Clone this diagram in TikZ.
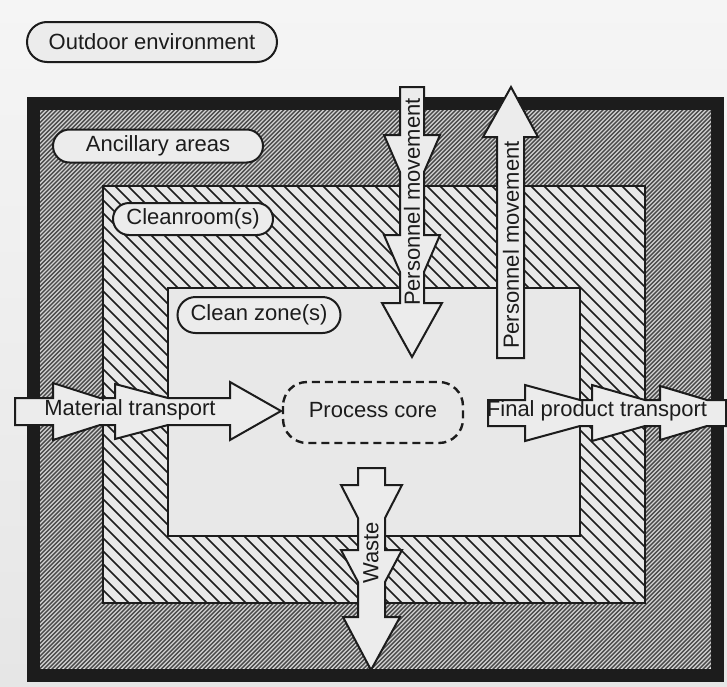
\documentclass[tikz,border=0pt]{standalone}
\usepackage{fontspec}
\setmainfont{Liberation Sans}
\usetikzlibrary{shapes.misc}

\definecolor{paper}{HTML}{E6E6E6}
\definecolor{ink}{HTML}{1C1C1C}
\definecolor{ancfill}{HTML}{D2D2D2}
\definecolor{anchatch}{HTML}{4A4A4A}
\definecolor{zonefill}{HTML}{E8E8E8}
\definecolor{arrowfill}{HTML}{ECECEC}

\begin{document}
\begin{tikzpicture}[x=0.5pt,y=-0.5pt,
    zonelabel/.style={draw=ink,line width=1pt,fill=arrowfill,rounded rectangle,
      inner sep=0pt,font=\fontsize{11}{13}\selectfont,text=ink},
    flowarrow/.style={draw=ink,line width=1pt,fill=arrowfill,line join=miter},
    flowtext/.style={font=\fontsize{11}{13}\selectfont,text=ink,inner sep=0pt}]
  \useasboundingbox (0,0) rectangle (727,686);
  \shade[top color=paper!40!white,bottom color=paper] (0,0) rectangle (727,686);

  % outdoor environment
  \node[zonelabel,minimum width=125pt,minimum height=20pt] (outdoor) at (152,42) {Outdoor environment};

  % black frame
  \draw[line width=6.5pt,ink] (33.5,103) rectangle (717.5,675);

  % ancillary areas, fine hatch
  \begin{scope}
    \clip (40,110) rectangle (711,668);
    \fill[ancfill] (40,110) rectangle (711,668);
    \foreach \k in {150,154.2,...,1380}
      \draw[anchatch,line width=0.7pt] (\k,0) -- (\k-700,700);
  \end{scope}

  % cleanroom(s), wide hatch
  \begin{scope}
    \clip (103,186) rectangle (645,603);
    \fill[zonefill] (103,186) rectangle (645,603);
    \foreach \k in {-500,-487,...,460}
      \draw[ink,line width=0.85pt] (\k,0) -- (\k+700,700);
  \end{scope}
  \draw[ink,line width=0.6pt] (103,186) rectangle (645,603);

  % clean zone(s)
  \draw[ink,line width=0.8pt,fill=zonefill] (168,288) rectangle (580,536);

  % labels
  \node[zonelabel,minimum width=105pt,minimum height=16.5pt] (ancillary) at (158,146) {Ancillary areas};
  \node[zonelabel,minimum width=80pt,minimum height=16pt] (cleanroom) at (193,219) {Cleanroom(s)};
  \node[zonelabel,minimum width=81.5pt,minimum height=18pt] (cleanzone) at (259,315) {Clean zone(s)};

  % process core
  \draw[ink,line width=1.2pt,dash pattern=on 4pt off 2.5pt,rounded corners=12pt]
    (283,382) rectangle (463,443);
  \node[flowtext] (core) at (373,410) {Process core};

  % material transport
  \draw[flowarrow] (15,398) -- (53,398) -- (53,383) -- (100,398) -- (115,398) -- (115,384)
    -- (168,398) -- (230,398) -- (230,382) -- (281,411) -- (230,440) -- (230,425)
    -- (168,425) -- (115,439) -- (115,425) -- (100,425) -- (53,440) -- (53,425)
    -- (15,425) -- cycle;
  \node[flowtext] (material) at (130,410) {Material transport};

  % final product transport
  \draw[flowarrow] (488,400) -- (525,400) -- (525,385) -- (580,400) -- (592,400) -- (592,385)
    -- (645,400) -- (660,400) -- (660,386) -- (707,400) -- (726,400) -- (726,426)
    -- (707,426) -- (660,440) -- (660,426) -- (645,426) -- (592,441) -- (592,426)
    -- (580,426) -- (525,441) -- (525,426) -- (488,426) -- cycle;
  \node[flowtext] (product) at (597,411) {Final product transport};

  % personnel movement, inwards
  \draw[flowarrow] (400,87) -- (424,87) -- (424,135) -- (440,135) -- (424,172) -- (424,235)
    -- (440,235) -- (424,272) -- (424,303) -- (442,303) -- (412,357) -- (382,303)
    -- (400,303) -- (400,272) -- (384,235) -- (400,235) -- (400,172) -- (384,135)
    -- (400,135) -- cycle;
  \node[flowtext,rotate=90] (personin) at (412,202) {Personnel movement};

  % personnel movement, outwards
  \draw[flowarrow] (511,87) -- (538,137) -- (524,137) -- (524,358) -- (497,358) -- (497,137)
    -- (483,137) -- cycle;
  \node[flowtext,rotate=90] (personout) at (511,245) {Personnel movement};

  % waste
  \draw[flowarrow] (358,468) -- (385,468) -- (385,485) -- (402,485) -- (385,518) -- (385,550)
    -- (402,550) -- (385,582) -- (385,617) -- (400,617) -- (371,670) -- (343,617)
    -- (358,617) -- (358,582) -- (341,550) -- (358,550) -- (358,518) -- (341,485)
    -- (358,485) -- cycle;
  \node[flowtext,rotate=90] (waste) at (371,553) {Waste};
\end{tikzpicture}
\end{document}
